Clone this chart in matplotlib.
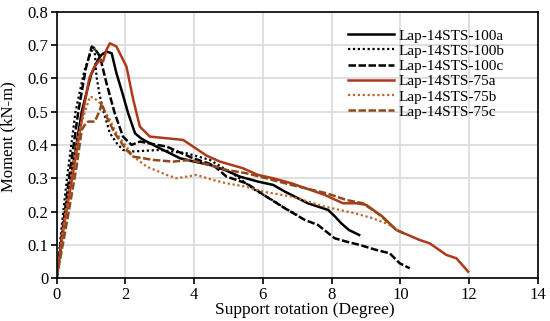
import matplotlib
matplotlib.use("Agg")
import matplotlib.pyplot as plt

plt.rcParams['font.family'] = ['Liberation Serif', 'DejaVu Serif']
plt.rcParams['mathtext.fontset'] = 'stix'

# Lap-14STS-100a (solid black)
x_100a = [0, 0.2, 0.45, 0.73, 1.0, 1.2, 1.3, 1.45, 1.6, 1.74, 1.9, 2.08, 2.28, 2.45, 2.62,
          3.0, 3.59, 4.0, 4.46, 4.89, 5.33, 5.86, 6.3, 6.64, 7.31, 7.9, 8.1, 8.28, 8.5, 8.8]
y_100a = [0, 0.16, 0.32, 0.5, 0.61, 0.655, 0.67, 0.68, 0.675, 0.615, 0.56, 0.495, 0.435, 0.42, 0.41,
          0.39, 0.36, 0.35, 0.34, 0.325, 0.305, 0.29, 0.28, 0.26, 0.225, 0.205, 0.185, 0.165, 0.145, 0.13]

# Lap-14STS-100b (dotted black)
x_100b = [0, 0.15, 0.3, 0.55, 0.8, 1.0, 1.1, 1.16, 1.25, 1.35, 1.55, 1.75, 1.93, 2.13,
          3.0, 3.78, 4.46, 5.18, 5.77, 6.35, 6.64, 7.0]
y_100b = [0, 0.16, 0.3, 0.5, 0.62, 0.68, 0.69, 0.605, 0.55, 0.505, 0.435, 0.405, 0.385, 0.38,
          0.385, 0.375, 0.355, 0.31, 0.265, 0.23, 0.21, 0.19]

# Lap-14STS-100c (dashed black)
x_100c = [0, 0.2, 0.4, 0.63, 0.85, 1.02, 1.1, 1.26, 1.45, 1.69, 1.93, 2.18, 2.42, 3.2,
          3.97, 4.55, 4.94, 5.52, 6.1, 6.64, 7.22, 7.6, 8.09, 8.43, 8.82, 9.3, 9.69, 9.98, 10.27]
y_100c = [0, 0.17, 0.33, 0.5, 0.63, 0.695, 0.69, 0.665, 0.585, 0.495, 0.425, 0.4, 0.41, 0.395,
          0.36, 0.34, 0.305, 0.285, 0.245, 0.21, 0.175, 0.16, 0.12, 0.11, 0.1, 0.085, 0.075, 0.045, 0.03]

# Lap-14STS-75a (solid red)
x_75a = [0, 0.2, 0.45, 0.77, 0.95, 1.1, 1.26, 1.35, 1.45, 1.55, 1.74, 2.03, 2.23, 2.42, 2.71,
         3.2, 3.68, 3.97, 4.36, 4.75, 5.42, 5.86, 6.3, 6.83, 7.8, 8.33, 8.72, 9.01, 9.48, 9.88,
         10.56, 10.85, 11.34, 11.63, 11.97]
y_75a = [0, 0.15, 0.3, 0.5, 0.6, 0.635, 0.655, 0.65, 0.685, 0.705, 0.695, 0.635, 0.535, 0.455, 0.425,
         0.42, 0.415, 0.395, 0.368, 0.35, 0.33, 0.31, 0.3, 0.285, 0.25, 0.225, 0.225, 0.22, 0.185, 0.145,
         0.115, 0.105, 0.07, 0.06, 0.02]

# Lap-14STS-75b (dotted red)
x_75b = [0, 0.2, 0.45, 0.7, 0.97, 1.1, 1.26, 1.55, 1.74, 2.03, 2.23, 2.62, 3.2, 3.49, 4.07,
         4.55, 4.94, 5.5, 6.0, 6.83, 7.8, 8.67, 9.2, 9.69, 9.98]
y_75b = [0, 0.16, 0.33, 0.46, 0.545, 0.54, 0.525, 0.475, 0.435, 0.395, 0.365, 0.335, 0.31, 0.3, 0.31,
         0.295, 0.285, 0.275, 0.26, 0.245, 0.215, 0.195, 0.18, 0.16, 0.14]

# Lap-14STS-75c (dashed red)
x_75c = [0, 0.3, 0.58, 0.73, 0.85, 0.92, 1.11, 1.26, 1.31, 1.45, 1.69, 2.03, 2.23, 2.81, 3.39,
         3.88, 4.46, 4.94, 5.52, 5.91, 6.83, 7.85, 8.43, 8.91, 9.4, 9.88, 10.1]
y_75c = [0, 0.17, 0.335, 0.445, 0.465, 0.47, 0.47, 0.505, 0.525, 0.485, 0.435, 0.385, 0.365, 0.355, 0.35,
         0.355, 0.34, 0.325, 0.315, 0.305, 0.28, 0.255, 0.235, 0.225, 0.19, 0.145, 0.135]

fig = plt.figure(figsize=(5.5, 3.21), dpi=100)
ax = fig.add_axes([0.103, 0.133, 0.875, 0.831])

ax.plot(x_100a, y_100a, color='black', lw=1.8, label='Lap-14STS-100a')
ax.plot(x_100b, y_100b, color='black', lw=1.6, dashes=(1, 1.2), label='Lap-14STS-100b')
ax.plot(x_100c, y_100c, color='black', lw=1.8, dashes=(3, 1), label='Lap-14STS-100c')
ax.plot(x_75a, y_75a, color='#b0391b', lw=1.8, label='Lap-14STS-75a')
ax.plot(x_75b, y_75b, color='#b8672f', lw=1.6, dashes=(1, 1.2), label='Lap-14STS-75b')
ax.plot(x_75c, y_75c, color='#8e4a1c', lw=1.8, dashes=(3, 1), label='Lap-14STS-75c')

ax.set_xlim(0, 14)
ax.set_ylim(0, 0.8)
ax.set_xticks(range(0, 15, 2))
ax.set_yticks([i / 10 for i in range(9)])
ax.set_yticklabels(['0'] + ['%.1f' % (i / 10) for i in range(1, 9)])
ax.grid(True, color='#d9d9d9', lw=1.2)
ax.set_axisbelow(True)
for sp in ax.spines.values():
    sp.set_linewidth(1.2)
ax.tick_params(direction='out', length=4, width=1.2, labelsize=12, pad=2)

ax.set_xlabel('Support rotation (Degree)', fontsize=12.5)
ax.xaxis.set_label_coords(0.515, -0.088)
ax.set_ylabel('Moment (kN-m)', fontsize=12)
ax.yaxis.set_label_coords(-0.083, 0.53)

ax.legend(loc='upper left', bbox_to_anchor=(0.583, 0.975), frameon=False, fontsize=11,
          handlelength=3.0, labelspacing=0.1, handletextpad=0.3, borderpad=0.2)

fig.savefig('out.png', dpi=100)
